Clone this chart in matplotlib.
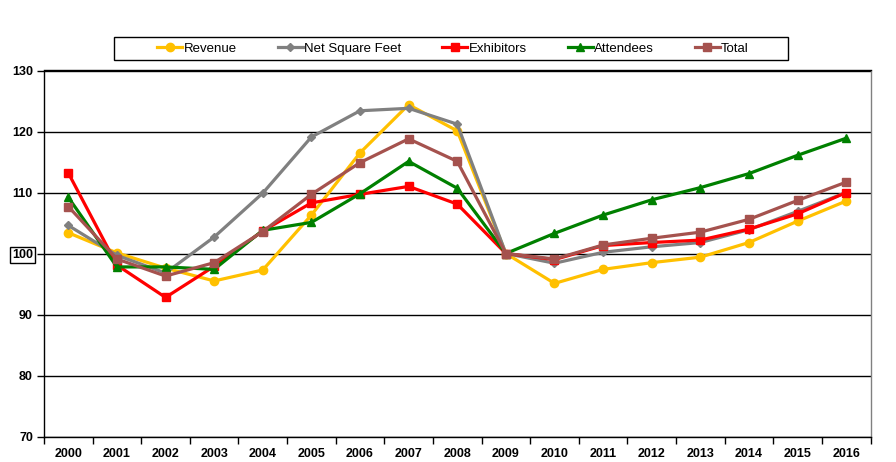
"""
Trade show index chart, 2000-2016 (2009 = 100).

Five series drawn as thick marker lines on a category axis,
legend in a box across the top.
"""

import matplotlib
matplotlib.use("Agg")
import matplotlib.pyplot as plt
from matplotlib.patches import Rectangle
import numpy as np


years = [str(y) for y in range(2000, 2017)]

revenue = [103.4, 100.1, 97.6, 95.5, 97.3, 106.3, 116.5, 124.4, 120.1, 100.0,
           95.1, 97.4, 98.5, 99.4, 101.8, 105.3, 108.6]
net_square_feet = [104.6, 99.7, 96.8, 102.7, 109.9, 119.1, 123.4, 123.8, 121.2, 100.0,
                   98.4, 100.2, 101.1, 101.8, 103.9, 106.9, 110.0]
exhibitors = [113.2, 98.1, 92.8, 97.9, 103.7, 108.3, 109.7, 111.0, 108.1, 100.0,
              99.0, 101.3, 101.8, 102.2, 104.0, 106.5, 110.0]
attendees = [109.2, 97.8, 97.8, 97.4, 103.8, 105.1, 109.8, 115.1, 110.7, 100.0,
             103.3, 106.3, 108.8, 110.8, 113.1, 116.1, 118.9]
total = [107.7, 99.1, 96.3, 98.5, 103.6, 109.7, 114.9, 118.8, 115.1, 100.0,
         99.1, 101.4, 102.5, 103.5, 105.6, 108.7, 111.7]

series = [
    ("Revenue", revenue, "#FFC000", "o", 6.0),
    ("Net Square Feet", net_square_feet, "#808080", "D", 4.0),
    ("Exhibitors", exhibitors, "#FF0000", "s", 6.0),
    ("Attendees", attendees, "#008000", "^", 6.0),
    ("Total", total, "#A5524E", "s", 6.3),
]

fig = plt.figure(figsize=(8.96, 4.62), dpi=100)
ax = fig.add_axes([44 / 896, 1 - 436.5 / 462, (870.5 - 44) / 896, (436.5 - 70.5) / 462])

x = np.arange(len(years))
for name, values, color, marker, size in series:
    ax.plot(x, values, color=color, lw=2.3, marker=marker, markersize=size,
            markeredgecolor=color, label=name, clip_on=False)

ax.set_xlim(-0.5, len(years) - 0.5)
ax.set_ylim(70, 130)
ax.set_yticks(range(70, 131, 10))
ax.yaxis.grid(True, color="black", lw=1.0)
ax.set_axisbelow(True)

ax.set_xticks(x)
ax.set_xticklabels(years)
ax.set_xticks(np.arange(-0.5, len(years)), minor=True)
ax.tick_params(axis="x", which="major", length=0, pad=8)
ax.tick_params(axis="x", which="minor", length=5, width=1.0, direction="out")
ax.tick_params(axis="y", length=5, width=1.0, direction="out", pad=3)

for lab in ax.get_xticklabels() + ax.get_yticklabels():
    lab.set_fontfamily("Liberation Sans")
    lab.set_fontweight("bold")
    lab.set_fontsize(9)

for lab in ax.get_yticklabels():
    if lab.get_text() == "100":
        lab.set_bbox(dict(facecolor="white", edgecolor="black", lw=1.0, pad=1.5))

ax.spines["left"].set_color("black")
ax.spines["bottom"].set_color("black")
ax.spines["top"].set_color("black")
ax.spines["right"].set_color("#808080")
for s in ax.spines.values():
    s.set_linewidth(1.0)

# legend box drawn separately so the entries can sit with wide side padding
fig.patches.append(Rectangle((114 / 896, 1 - 59.5 / 462), (788 - 114) / 896, 22.5 / 462,
                             transform=fig.transFigure, facecolor="white",
                             edgecolor="black", lw=1.0, zorder=0))
fig.legend(loc="center", bbox_to_anchor=(453 / 896, 1 - 49 / 462), ncol=5,
           frameon=False, handlelength=1.9, handletextpad=0.1, columnspacing=3.1,
           borderaxespad=0, borderpad=0,
           prop={"family": "Liberation Sans", "size": 9.5})

fig.savefig("out.png", dpi=100)
